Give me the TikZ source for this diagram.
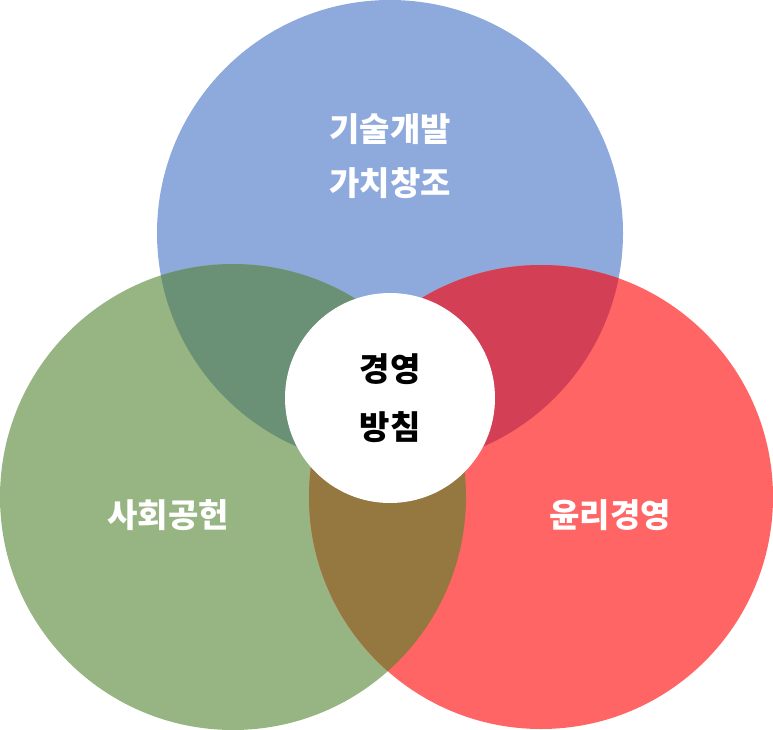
\documentclass[tikz,border=0pt]{standalone}
\usepackage{fontspec}
\newfontfamily\kr{Noto Sans CJK KR}
\definecolor{cb}{HTML}{8EA9DB}
\definecolor{cg}{HTML}{97B483}
\definecolor{cr}{HTML}{FF6565}
\definecolor{cbg}{HTML}{6A9175}
\definecolor{cbr}{HTML}{D33F55}
\definecolor{cgr}{HTML}{94783F}
\tikzset{lbl/.style={text=white,font=\kr\fontsize{33}{40}\selectfont\bfseries,align=center},
clbl/.style={text=black,font=\kr\fontsize{33}{58}\selectfont\bfseries,align=center}}
\begin{document}
\begin{tikzpicture}[x=1pt,y=-1pt]
\useasboundingbox (0,0) rectangle (773,730);
\def\B{(390,233) circle (233)}
\def\G{(233,497) circle (233)}
\def\R{(541,497) circle (232)}
\fill[cb] \B; \fill[cg] \G; \fill[cr] \R;
\begin{scope}\clip \B; \fill[cbg] \G; \end{scope}
\begin{scope}\clip \B; \fill[cbr] \R; \end{scope}
\begin{scope}\clip \G; \fill[cgr] \R; \end{scope}
\node[circle,fill=white,minimum size=210pt,inner sep=0] (c) at (390,398) {};
\node[clbl] (ct) at (c) {경영\\방침};
\node[lbl] (t) at (390,156) {기술개발\\[14pt]가치창조};
\node[lbl] (l) at (168,515) {사회공헌};
\node[lbl] (r) at (610,515) {윤리경영};
\end{tikzpicture}
\end{document}
